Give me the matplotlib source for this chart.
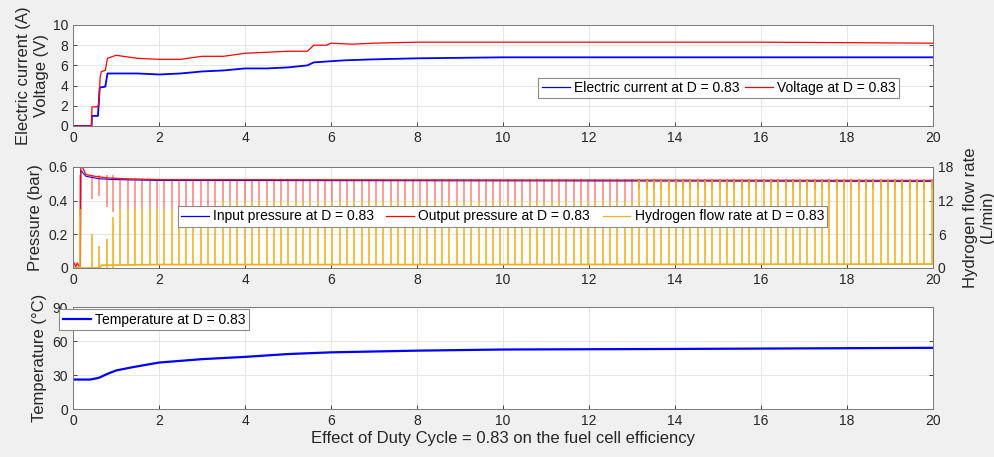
import numpy as np
import matplotlib.pyplot as plt
from matplotlib.ticker import FormatStrFormatter

plt.rcParams['font.family'] = ['Liberation Sans', 'DejaVu Sans']

# ---- top panel: electric current and voltage
volt_t = [0, 0.43, 0.44, 0.56, 0.60, 0.63, 0.66, 0.75, 0.80, 1.0, 1.5, 2.0, 2.5, 3.0,
          3.5, 4.0, 4.5, 5.0, 5.45, 5.6, 5.9, 6.0, 6.5, 7.0, 8.0, 12, 16, 20]
volt_v = [0, 0, 1.9, 1.9, 2.1, 4.8, 5.4, 5.5, 6.7, 7.0, 6.7, 6.6, 6.6, 6.9,
          6.9, 7.2, 7.3, 7.4, 7.4, 8.0, 8.0, 8.2, 8.1, 8.2, 8.3, 8.3, 8.3, 8.2]
curr_t = [0, 0.43, 0.44, 0.58, 0.62, 0.75, 0.80, 1.0, 1.5, 2.0, 2.5, 3.0, 3.5, 4.0,
          4.5, 5.0, 5.45, 5.6, 6.3, 7.0, 8.0, 10, 14, 20]
curr_v = [0, 0, 1.0, 1.0, 3.8, 3.9, 5.2, 5.2, 5.2, 5.1, 5.2, 5.4, 5.5, 5.7,
          5.7, 5.8, 6.0, 6.3, 6.5, 6.6, 6.7, 6.8, 6.8, 6.8]

# ---- middle panel: pressures (bar) and hydrogen flow (L/min)
pin_t = [0, 0.17, 0.18, 0.3, 0.6, 1.0, 2.0, 20]
pin_v = [0, 0, 0.58, 0.545, 0.53, 0.525, 0.52, 0.515]
pout_t = [0, 0.03, 0.06, 0.10, 0.14, 0.17, 0.18, 0.3, 0.5, 0.8, 1.2, 2.0, 20]
pout_v = [0.02, 0.03, 0.005, 0.03, 0.01, 0.02, 0.62, 0.555, 0.545, 0.535, 0.53, 0.525, 0.52]
flow_t = [0, 0.62, 0.66, 2.0, 10, 20]
flow_v = [0, 0, 0.5, 0.6, 0.6, 0.7]

# purge spikes
early_t = [0.17, 0.45, 0.60, 0.78, 0.93]
early_flow = [10.5, 6.0, 4.0, 5.2, 9.0]
early_dip = [0.30, 0.41, 0.43, 0.36, 0.33]
spikes_a = [1.10, 1.27, 1.44, 1.61, 1.78, 1.95, 2.12, 2.29, 2.46, 2.63, 2.80, 2.97,
            3.14, 3.31]
spikes_b = [3.48, 3.65, 3.82, 3.99, 4.16, 4.33, 4.50, 4.67, 4.84, 5.01, 5.18, 5.35,
            5.52, 5.69, 5.86, 6.03, 6.20, 6.37, 6.54, 6.71, 6.88, 7.05, 7.22, 7.39,
            7.56, 7.73, 7.90, 8.07, 8.24, 8.41, 8.58, 8.75, 8.92, 9.09, 9.26, 9.43,
            9.60, 9.77, 9.94, 10.11, 10.28, 10.45, 10.62, 10.79, 10.96, 11.13, 11.30,
            11.47, 11.64, 11.81, 11.98, 12.15, 12.32, 12.49, 12.66, 12.83, 13.00]
spikes_c = [13.17, 13.34, 13.51, 13.68, 13.85, 14.02, 14.19, 14.36, 14.53, 14.70,
            14.87, 15.04, 15.21, 15.38, 15.55, 15.72, 15.89, 16.06, 16.23, 16.40,
            16.57, 16.74, 16.91, 17.08, 17.25, 17.42, 17.59, 17.76, 17.93, 18.10,
            18.27, 18.44, 18.61, 18.78, 18.95, 19.12, 19.29, 19.46, 19.63, 19.80, 19.97]
peak_a, peak_b, peak_c = 10.5, 12.0, 15.6
dip_a, dip_b, dip_c = 0.35, 0.40, 0.47

# ---- bottom panel: temperature
temp_t = [0, 0.4, 0.6, 0.8, 1.0, 1.4, 2, 3, 4, 5, 6, 8, 10, 14, 20]
temp_v = [26, 26, 27.5, 31, 34, 37, 41, 44, 46, 48.5, 50, 51.5, 52.5, 53, 54]

xticks = np.arange(0, 21, 2)
txt = '#262626'
orange = '#EDB120'


def style(ax):
    ax.set_facecolor('white')
    ax.set_xlim(0, 20)
    ax.set_xticks(xticks)
    ax.grid(True, color='#e6e6e6', lw=0.7)
    ax.set_axisbelow(True)
    ax.tick_params(direction='in', length=3, width=0.6, colors=txt, labelsize=10,
                   top=False, right=True)
    for s in ax.spines.values():
        s.set_color('#7a7a7a')
        s.set_linewidth(0.7)
    ax.yaxis.set_major_formatter(FormatStrFormatter('%g'))


fig = plt.figure(figsize=(9.95, 4.57), dpi=100, facecolor='#f0f0f0')
ax1 = fig.add_axes([0.0734, 0.7243, 0.8643, 0.2210])
ax2 = fig.add_axes([0.0734, 0.4136, 0.8643, 0.2210])
ax3 = fig.add_axes([0.0734, 0.1050, 0.8643, 0.2232])

leg_kw = dict(fontsize=10, fancybox=False, framealpha=1, edgecolor='#8a8a8a',
              handlelength=2.0, handletextpad=0.3, columnspacing=0.4,
              borderpad=0.25, borderaxespad=0)

# top
style(ax1)
ax1.plot(curr_t, curr_v, color='#0000ff', lw=1.3, label='Electric current at D = 0.83')
ax1.plot(volt_t, volt_v, color='#ff0000', lw=0.9, label='Voltage at D = 0.83')
ax1.set_ylim(0, 10)
ax1.set_yticks([0, 2, 4, 6, 8, 10])
ax1.set_ylabel('Electric current (A)\nVoltage (V)', fontsize=12, color=txt, labelpad=3)
lg = ax1.legend(loc='center', bbox_to_anchor=(0.7506, 0.376), ncol=2, **leg_kw)
lg.get_frame().set_linewidth(0.8)
for h in lg.get_lines():
    h.set_linewidth(0.9)

# middle
style(ax2)
ax2.tick_params(right=False)
ax2.set_ylim(0, 0.6)
ax2.set_yticks([0, 0.2, 0.4, 0.6])
ax2.set_ylabel('Pressure (bar)', fontsize=12, color=txt)
l_in, = ax2.plot(pin_t, pin_v, color='#0000ff', lw=0.8)
ax2.vlines(early_t, early_dip, 0.55, color='#ff0000', lw=1.1, alpha=0.5)
ax2.vlines(spikes_a, dip_a, 0.53, color='#ff0000', lw=1.1, alpha=0.5)
ax2.vlines(spikes_b, dip_b, 0.53, color='#ff0000', lw=1.1, alpha=0.5)
ax2.vlines(spikes_c, dip_c, 0.53, color='#ff0000', lw=1.1, alpha=0.5)
l_out, = ax2.plot(pout_t, pout_v, color='#ff0000', lw=1.0, alpha=0.9)

ax2r = ax2.twinx()
ax2r.set_ylim(0, 18)
ax2r.set_yticks([0, 6, 12, 18])
ax2r.tick_params(direction='in', length=3, width=0.6, colors=txt, labelsize=10)
for s in ax2r.spines.values():
    s.set_color('#7a7a7a')
    s.set_linewidth(0.7)
ax2r.vlines(early_t, 0, early_flow, color=orange, lw=1.5, alpha=0.8)
ax2r.vlines(spikes_a, 0.5, peak_a, color=orange, lw=1.5, alpha=0.8)
ax2r.vlines(spikes_b, 0.5, peak_b, color=orange, lw=1.5, alpha=0.8)
ax2r.vlines(spikes_c, 0.5, peak_c, color=orange, lw=1.5, alpha=0.8)
l_fl, = ax2r.plot(flow_t, flow_v, color=orange, lw=1.3)
ax2r.set_ylabel('Hydrogen flow rate\n(L/min)', fontsize=12, color=txt, labelpad=7)
ax2r.set_xlim(0, 20)
leg2_kw = dict(leg_kw, columnspacing=0.9)
lg2 = ax2r.legend([l_in, l_out, l_fl],
                  ['Input pressure at D = 0.83', 'Output pressure at D = 0.83',
                   'Hydrogen flow rate at D = 0.83'],
                  loc='center', bbox_to_anchor=(0.4994, 0.51), ncol=3, **leg2_kw)
lg2.get_frame().set_linewidth(0.8)
for h in lg2.get_lines():
    h.set_linewidth(0.9)
    h.set_alpha(1)

# bottom
style(ax3)
ax3.plot(temp_t, temp_v, color='#0000ff', lw=1.6, label='Temperature at D = 0.83')
ax3.set_ylim(0, 90)
ax3.set_yticks([0, 30, 60, 90])
ax3.set_ylabel('Temperature (°C)', fontsize=12, color=txt)
ax3.set_xlabel('Effect of Duty Cycle = 0.83 on the fuel cell efficiency', fontsize=12,
               color=txt, labelpad=2)
lg3 = ax3.legend(loc='center', bbox_to_anchor=(0.0942, 0.877), **leg_kw)
lg3.get_frame().set_linewidth(0.8)
lg3.set_zorder(10)

fig.savefig('out.png', dpi=100, facecolor=fig.get_facecolor())
